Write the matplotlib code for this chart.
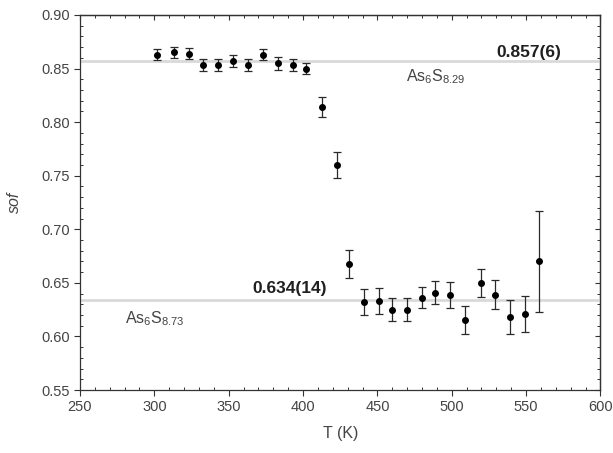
import numpy as np
import matplotlib
matplotlib.use("Agg")
import matplotlib.pyplot as plt
from matplotlib.ticker import MultipleLocator

# Data
temp = [302, 313, 323, 333, 343, 353, 363, 373, 383, 393, 402, 413, 423,
        431, 441, 451, 460, 470, 480, 489, 499, 509, 520, 529, 539, 549, 559]
sof = [0.863, 0.865, 0.864, 0.853, 0.853, 0.857, 0.853, 0.863, 0.855, 0.853,
       0.850, 0.814, 0.760, 0.668, 0.632, 0.633, 0.625, 0.625, 0.636, 0.641,
       0.639, 0.615, 0.650, 0.639, 0.618, 0.621, 0.670]
err = [0.0055, 0.0055, 0.0055, 0.0055, 0.0055, 0.006, 0.0055, 0.0055, 0.006,
       0.0055, 0.0055, 0.009, 0.012, 0.013, 0.012, 0.012, 0.011, 0.011, 0.0098,
       0.011, 0.012, 0.013, 0.013, 0.0137, 0.016, 0.017, 0.047]

ref_high = 0.857
ref_low = 0.634

plt.rcParams['font.family'] = ['Liberation Sans', 'DejaVu Sans']
plt.rcParams['mathtext.default'] = 'regular'

fig = plt.figure(figsize=(6.13, 4.53), dpi=100)
ax = fig.add_axes([0.1305, 0.139, 0.849, 0.828])

txt = '#444444'

# reference levels
ax.axhline(ref_high, color='#d9d9d9', lw=2, zorder=1)
ax.axhline(ref_low, color='#d9d9d9', lw=2, zorder=1)

ax.errorbar(temp, sof, yerr=err, fmt='o', color='black', ms=4,
            ecolor='#2a2a2a', elinewidth=0.9, capsize=3.2, capthick=0.9, zorder=3)

ax.text(530, 0.8645, '0.857(6)', fontsize=12.5, fontweight='bold',
        color='#202020', va='center', ha='left')
ax.text(469, 0.842, r'$\mathregular{As_6S_{8.29}}$', fontsize=11.5,
        color=txt, va='center', ha='left')
ax.text(366, 0.6443, '0.634(14)', fontsize=12.5, fontweight='bold',
        color='#202020', va='center', ha='left')
ax.text(280, 0.617, r'$\mathregular{As_6S_{8.73}}$', fontsize=11.5,
        color=txt, va='center', ha='left')

ax.set_xlim(250, 600)
ax.set_ylim(0.55, 0.90)

for side in ['left', 'right', 'top', 'bottom']:
    ax.spines[side].set_color('#333333')
    ax.spines[side].set_linewidth(0.9)

# top and right axes: ticks pointing inward, no labels
top = ax.secondary_xaxis('top')
right = ax.secondary_yaxis('right')

for a in [ax.xaxis, top.xaxis]:
    a.set_major_locator(MultipleLocator(50))
    a.set_minor_locator(MultipleLocator(10))
for a in [ax.yaxis, right.yaxis]:
    a.set_major_locator(MultipleLocator(0.05))
    a.set_minor_locator(MultipleLocator(0.01))
ax.yaxis.set_major_formatter(plt.FormatStrFormatter('%.2f'))

ax.tick_params(which='major', direction='out', length=4, width=0.8,
               color='#333333', labelsize=10.5, labelcolor=txt)
ax.tick_params(which='minor', direction='in', length=2.5, width=0.7,
               color='#333333')
for s in [top, right]:
    s.tick_params(which='major', direction='in', length=3.5, width=0.8,
                  color='#333333', labelsize=0)
    s.tick_params(which='minor', direction='in', length=2.5, width=0.7,
                  color='#333333')
    for sp in s.spines.values():
        sp.set_color('#333333')
        sp.set_linewidth(0.9)
top.set_xticklabels([])
right.set_yticklabels([])

ax.set_xlabel('T (K)', fontsize=11.5, color=txt, labelpad=8)
ax.set_ylabel('sof', fontsize=11.5, color=txt, style='italic', labelpad=14)

fig.savefig('out.png', dpi=100)
